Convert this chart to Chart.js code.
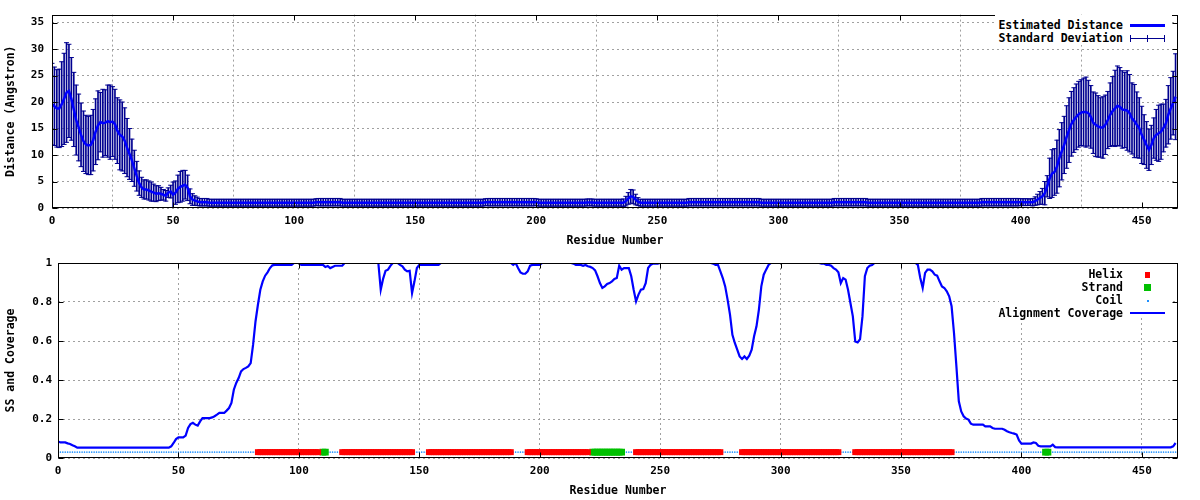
<!DOCTYPE html>
<html>
<head>
<meta charset="utf-8">
<script src="https://cdn.jsdelivr.net/npm/chart.js@4.4.1/dist/chart.umd.min.js"></script>
<style>
html,body{margin:0;padding:0;background:#fff;}
#wrap{position:relative;width:1200px;height:500px;overflow:hidden;background:#fff;}
canvas{position:absolute;left:0;}
.box{position:absolute;background:#fff;}
.lt{position:absolute;right:77px;font:bold 11.5px 'DejaVu Sans Mono',monospace;color:#000;white-space:nowrap;text-align:right;line-height:13px;height:13px;}
.sw{position:absolute;}
</style>
</head>
<body>
<div id="wrap">
  <canvas id="cTop" width="1200" height="250" style="top:0px"></canvas>
  <canvas id="cBot" width="1200" height="250" style="top:250px"></canvas>

  <!-- top legend -->
  <div class="box" style="left:995px;top:15px;width:177px;height:30px"></div>
  <div class="lt" style="top:19px">Estimated Distance</div>
  <div class="sw" style="left:1130px;top:24px;width:35px;height:3px;background:#0000ff"></div>
  <div class="lt" style="top:32px">Standard Deviation</div>
  <div class="sw" style="left:1130px;top:38px;width:35px;height:1px;background:#000090"></div>
  <div class="sw" style="left:1130px;top:35px;width:1px;height:7px;background:#000090"></div>
  <div class="sw" style="left:1147px;top:35px;width:1px;height:7px;background:#000090"></div>
  <div class="sw" style="left:1164px;top:35px;width:1px;height:7px;background:#000090"></div>

  <!-- bottom legend -->
  <div class="box" style="left:999px;top:264px;width:173px;height:53px"></div>
  <div class="lt" style="top:268px">Helix</div>
  <div class="sw" style="left:1145px;top:272px;width:5px;height:6px;background:#ff0000"></div>
  <div class="lt" style="top:281px">Strand</div>
  <div class="sw" style="left:1144px;top:284px;width:7px;height:7px;background:#00c000"></div>
  <div class="lt" style="top:294px">Coil</div>
  <div class="sw" style="left:1147px;top:300px;width:2px;height:2px;background:#1e90ff"></div>
  <div class="lt" style="top:307px">Alignment Coverage</div>
  <div class="sw" style="left:1130px;top:312px;width:35px;height:2px;background:#0000ff"></div>
</div>

<script>
// ---------------- DATA ----------------
const xMax = 465;
const xTickValues = [0, 50, 100, 150, 200, 250, 300, 350, 400, 450];
const distTickValues = [0, 5, 10, 15, 20, 25, 30, 35];
const distMax = 36.5;
const covTickValues = [0, 0.2, 0.4, 0.6, 0.8, 1];
const covTickLabels = ['0', '0.2', '0.4', '0.6', '0.8', '1'];
const ssLevel = 0.03;

// Estimated distance per residue (0..464)
const meanDistance = [
19.6,19.2,18.8,18.8,19.6,20.6,21.8,22.1,20.6,18.6,
16.6,15.2,13.8,12.6,12.0,11.8,11.9,12.8,14.4,15.6,
16.2,16.0,16.1,16.4,16.2,16.3,15.8,14.6,13.8,13.5,
12.7,11.4,10.2,9.0,7.5,6.0,4.7,3.9,3.5,3.5,
3.3,3.1,2.9,2.7,2.8,2.7,2.5,2.3,2.9,3.1,
2.5,2.9,3.6,4.0,4.2,4.4,3.8,2.2,1.6,1.4,
1.25,1.1,1.1,1.1,1.1,1.0,1.0,1.0,1.0,1.0,
1.0,1.0,1.0,1.0,1.0,1.0,1.0,1.0,1.0,1.0,
1.0,1.0,1.0,1.0,1.0,1.0,1.0,1.0,1.0,1.0,
1.0,1.0,1.0,1.0,1.0,1.0,1.0,1.0,1.0,1.0,
1.0,1.0,1.0,1.0,1.0,1.0,1.0,1.0,1.0,1.1,
1.1,1.1,1.1,1.1,1.1,1.1,1.1,1.1,1.1,1.1,
1.0,1.0,1.0,1.0,1.0,1.0,1.0,1.0,1.0,1.0,
1.0,1.0,1.0,1.0,1.0,1.0,1.0,1.0,1.0,1.0,
1.0,1.0,1.0,1.0,1.0,1.0,1.0,1.0,1.0,1.0,
1.0,1.0,1.0,1.0,1.0,1.0,1.0,1.0,1.0,1.0,
1.0,1.0,1.0,1.0,1.0,1.0,1.0,1.0,1.0,1.0,
1.0,1.0,1.0,1.0,1.0,1.0,1.0,1.0,1.0,1.1,
1.1,1.1,1.1,1.1,1.1,1.1,1.1,1.1,1.1,1.1,
1.1,1.1,1.1,1.1,1.1,1.1,1.1,1.1,1.1,1.1,
1.1,1.0,1.0,1.0,1.0,1.0,1.0,1.0,1.0,1.0,
1.0,1.0,1.0,1.0,1.0,1.0,1.0,1.0,1.0,1.0,
1.0,1.05,1.05,1.05,1.0,1.0,1.0,1.0,1.0,1.0,
1.0,1.0,1.0,1.0,1.0,1.0,1.0,1.3,1.8,2.2,
2.1,1.6,1.2,1.0,1.0,1.0,1.0,1.0,1.0,1.0,
1.0,1.0,1.0,1.0,1.0,1.0,1.0,1.0,1.0,1.0,
1.0,1.0,1.0,1.1,1.1,1.1,1.1,1.1,1.1,1.1,
1.1,1.1,1.1,1.1,1.1,1.1,1.1,1.1,1.1,1.1,
1.1,1.1,1.1,1.1,1.1,1.1,1.1,1.1,1.1,1.1,
1.1,1.1,1.1,1.0,1.0,1.0,1.0,1.0,1.0,1.0,
1.0,1.0,1.0,1.0,1.0,1.0,1.0,1.0,1.0,1.0,
1.0,1.0,1.0,1.0,1.0,1.0,1.0,1.0,1.0,1.0,
1.0,1.0,1.0,1.1,1.1,1.1,1.1,1.1,1.1,1.1,
1.1,1.1,1.1,1.1,1.1,1.1,1.1,1.0,1.0,1.0,
1.0,1.0,1.0,1.0,1.0,1.0,1.0,1.0,1.0,1.0,
1.0,1.0,1.0,1.0,1.0,1.0,1.0,1.0,1.0,1.0,
1.0,1.0,1.0,1.0,1.0,1.0,1.0,1.0,1.0,1.0,
1.0,1.0,1.0,1.0,1.0,1.0,1.0,1.0,1.0,1.0,
1.0,1.0,1.0,1.0,1.1,1.1,1.1,1.1,1.1,1.1,
1.1,1.1,1.1,1.1,1.1,1.1,1.1,1.1,1.1,1.1,
1.1,1.1,1.1,1.1,1.1,1.1,1.3,1.6,1.9,2.2,
2.8,4.1,5.6,6.5,6.8,7.8,9.4,10.7,11.9,13.4,
14.7,15.9,16.6,17.2,17.7,18.0,18.1,18.1,17.9,17.2,
16.1,15.7,15.4,15.2,15.2,15.7,16.6,17.6,18.3,18.8,
19.3,19.1,18.6,18.5,18.4,17.9,16.9,16.4,15.7,15.1,
13.8,12.9,11.9,11.0,11.9,13.2,13.8,14.1,14.4,15.1,
16.0,17.6,18.8,19.8,21.0
];

// Standard deviation per residue (0..464)
const stdDev = [
7.7,7.4,7.3,7.4,8.0,8.6,9.4,8.8,7.8,7.0,
6.6,6.3,6.0,5.7,5.5,5.5,5.6,5.8,6.2,6.5,
5.6,6.4,6.2,6.8,7.0,6.6,6.6,6.2,6.6,6.5,
6.2,5.5,4.8,4.0,3.4,2.8,2.3,1.9,1.8,1.8,
1.8,1.8,1.6,1.5,1.4,1.2,1.0,1.0,0.9,1.2,
2.4,2.2,2.6,2.9,2.9,2.7,2.4,1.4,1.1,0.9,
0.8,0.7,0.7,0.7,0.7,0.65,0.65,0.65,0.65,0.65,
0.65,0.65,0.65,0.65,0.65,0.65,0.65,0.65,0.65,0.65,
0.65,0.65,0.65,0.65,0.65,0.65,0.65,0.65,0.65,0.65,
0.65,0.65,0.65,0.65,0.65,0.65,0.65,0.65,0.65,0.65,
0.65,0.65,0.65,0.65,0.65,0.65,0.65,0.65,0.65,0.65,
0.7,0.7,0.7,0.7,0.7,0.7,0.7,0.7,0.7,0.7,
0.65,0.65,0.65,0.65,0.65,0.65,0.65,0.65,0.65,0.65,
0.65,0.65,0.65,0.65,0.65,0.65,0.65,0.65,0.65,0.65,
0.65,0.65,0.65,0.65,0.65,0.65,0.65,0.65,0.65,0.65,
0.65,0.65,0.65,0.65,0.65,0.65,0.65,0.65,0.65,0.65,
0.65,0.65,0.65,0.65,0.65,0.65,0.65,0.65,0.65,0.65,
0.65,0.65,0.65,0.65,0.65,0.65,0.65,0.65,0.65,0.65,
0.7,0.7,0.7,0.7,0.7,0.7,0.7,0.7,0.7,0.7,
0.7,0.7,0.7,0.7,0.7,0.7,0.7,0.7,0.7,0.7,
0.65,0.65,0.65,0.65,0.65,0.65,0.65,0.65,0.65,0.65,
0.65,0.65,0.65,0.65,0.65,0.65,0.65,0.65,0.65,0.65,
0.65,0.65,0.65,0.65,0.65,0.65,0.65,0.65,0.65,0.65,
0.65,0.65,0.65,0.65,0.65,0.65,0.7,0.9,1.1,1.3,
1.3,1.0,0.75,0.65,0.65,0.65,0.65,0.65,0.65,0.65,
0.65,0.65,0.65,0.65,0.65,0.65,0.65,0.65,0.65,0.65,
0.65,0.65,0.65,0.7,0.7,0.7,0.7,0.7,0.7,0.7,
0.7,0.7,0.7,0.7,0.7,0.7,0.7,0.7,0.7,0.7,
0.7,0.7,0.7,0.7,0.7,0.7,0.7,0.7,0.7,0.7,
0.7,0.7,0.7,0.65,0.65,0.65,0.65,0.65,0.65,0.65,
0.65,0.65,0.65,0.65,0.65,0.65,0.65,0.65,0.65,0.65,
0.65,0.65,0.65,0.65,0.65,0.65,0.65,0.65,0.65,0.65,
0.65,0.65,0.65,0.7,0.7,0.7,0.7,0.7,0.7,0.7,
0.7,0.7,0.7,0.7,0.7,0.7,0.7,0.65,0.65,0.65,
0.65,0.65,0.65,0.65,0.65,0.65,0.65,0.65,0.65,0.65,
0.65,0.65,0.65,0.65,0.65,0.65,0.65,0.65,0.65,0.65,
0.65,0.65,0.65,0.65,0.65,0.65,0.65,0.65,0.65,0.65,
0.65,0.65,0.65,0.65,0.65,0.65,0.65,0.65,0.65,0.65,
0.65,0.65,0.65,0.65,0.7,0.7,0.7,0.7,0.7,0.7,
0.7,0.7,0.7,0.7,0.7,0.7,0.7,0.7,0.7,0.7,
0.65,0.65,0.65,0.65,0.6,0.7,0.8,1.0,1.2,1.5,
2.2,2.0,3.8,4.5,4.4,5.0,5.4,5.4,5.4,5.9,
6.1,6.1,6.1,6.2,6.2,6.2,6.4,6.6,6.2,5.9,
5.8,6.0,5.8,5.6,5.8,5.6,5.4,6.0,6.5,7.2,
7.5,7.4,7.3,7.1,7.5,7.3,6.7,6.9,6.2,5.7,
5.4,4.7,4.4,3.9,3.7,3.8,4.8,5.3,5.2,4.5,
4.5,5.5,5.8,6.0,8.1
];

// Alignment coverage per residue (0..464)
const coverage = [
0.085,0.08,0.08,0.08,0.075,0.072,0.065,0.06,0.053,0.053,
0.053,0.053,0.053,0.053,0.053,0.053,0.053,0.053,0.053,0.053,
0.053,0.053,0.053,0.053,0.053,0.053,0.053,0.053,0.053,0.053,
0.053,0.053,0.053,0.053,0.053,0.053,0.053,0.053,0.053,0.053,
0.053,0.053,0.053,0.053,0.053,0.053,0.053,0.06,0.077,0.097,
0.106,0.106,0.106,0.115,0.154,0.174,0.18,0.171,0.166,0.188,
0.205,0.205,0.205,0.205,0.208,0.214,0.222,0.231,0.231,0.231,
0.243,0.256,0.282,0.35,0.385,0.41,0.444,0.456,0.462,0.47,
0.487,0.581,0.70,0.786,0.863,0.906,0.935,0.952,0.974,0.988,
0.99,0.99,0.99,0.99,0.99,0.99,0.99,0.99,1,1,
1,0.99,0.99,0.99,0.99,0.99,0.99,0.99,0.99,0.99,
0.99,0.98,0.985,0.974,0.98,0.986,0.986,0.986,0.986,1,
1,1,1,1,1,1,1,1,1,1,
1,1,1,1,0.863,0.92,0.96,0.966,0.985,1,
1,1,0.99,0.983,0.966,0.957,0.96,0.846,0.906,0.974,
0.99,0.99,0.99,0.99,0.99,0.99,0.99,0.99,0.99,1,
1,1,1,1,1,1,1,1,1,1,
1,1,1,1,1,1,1,1,1,1,
1,1,1,1,1,1,1,1,1,0.99,
1,0.974,0.952,0.945,0.945,0.957,0.986,0.99,0.99,0.99,
0.99,1,1,1,1,1,1,1,1,1,
1,1,1,1,0.997,0.99,0.99,0.99,0.986,0.99,
0.983,0.98,0.974,0.962,0.932,0.897,0.872,0.88,0.892,0.897,
0.906,0.918,0.923,0.986,0.966,0.974,0.974,0.974,0.932,0.863,
0.803,0.838,0.863,0.866,0.897,0.974,0.99,0.997,0.997,0.997,
1,1,1,1,1,1,1,1,1,1,
1,1,1,1,1,1,1,1,1,1,
1,1,0.997,0.99,0.99,0.957,0.923,0.88,0.812,0.735,
0.632,0.59,0.556,0.521,0.508,0.521,0.508,0.525,0.556,0.624,
0.675,0.761,0.88,0.94,0.966,0.99,1,1,1,1,
1,1,1,1,1,1,1,1,1,1,
1,1,1,1,1,1,1,0.997,0.997,0.99,
0.99,0.986,0.974,0.966,0.952,0.897,0.923,0.915,0.863,0.795,
0.726,0.598,0.593,0.61,0.726,0.932,0.974,0.986,0.99,1,
1,1,1,1,1,1,1,1,1,1,
1,1,1,1,1,1,1,0.99,0.923,0.872,
0.949,0.966,0.966,0.957,0.94,0.935,0.906,0.88,0.872,0.855,
0.829,0.778,0.641,0.47,0.291,0.239,0.214,0.202,0.197,0.176,
0.171,0.171,0.171,0.171,0.171,0.162,0.162,0.162,0.154,0.15,
0.15,0.15,0.15,0.145,0.137,0.132,0.128,0.125,0.12,0.09,
0.074,0.074,0.074,0.074,0.074,0.08,0.077,0.063,0.06,0.06,
0.06,0.06,0.06,0.068,0.056,0.055,0.055,0.055,0.055,0.055,
0.055,0.055,0.055,0.055,0.055,0.055,0.055,0.055,0.055,0.055,
0.055,0.055,0.055,0.055,0.055,0.055,0.055,0.055,0.055,0.055,
0.055,0.055,0.055,0.055,0.055,0.055,0.055,0.055,0.055,0.055,
0.055,0.055,0.055,0.055,0.055,0.055,0.055,0.055,0.055,0.055,
0.055,0.055,0.055,0.06,0.077
];

// Secondary structure segments [first residue, last residue]
const helixRanges  = [[83,108],[118,147],[154,188],[195,220],[240,275],[284,324],[331,371]];
const strandRanges = [[110,111],[222,234],[410,411]];

// ---------------- BUILD ----------------
const residues = meanDistance.map((_, i) => i);
const inRanges = (r, ranges) => ranges.some(([a, b]) => r >= a && r <= b);
const helixRes  = residues.filter(r => inRanges(r, helixRanges));
const strandRes = residues.filter(r => inRanges(r, strandRanges));
const coilRes   = residues.filter(r => !inRanges(r, helixRanges) && !inRanges(r, strandRanges));

const FONT = "'DejaVu Sans Mono', monospace";
const tickFont = {family: FONT, size: 11, weight: 'bold'};
const titleFont = {family: FONT, size: 11.5, weight: 'bold'};
const GRID = '#a0a0a0';
const NAVY = '#000090';
const BLUE = '#0000ff';

const framePlugin = {
  id: 'frame',
  afterDatasetsDraw(chart) {
    const {ctx, chartArea: a, scales} = chart;
    const L = Math.round(a.left) + 0.5, R = Math.round(a.right) - 0.5;
    const T = Math.round(a.top) + 0.5, B = Math.round(a.bottom) - 0.5;
    ctx.save();
    ctx.strokeStyle = '#000';
    ctx.lineWidth = 1;
    ctx.setLineDash([]);
    ctx.strokeRect(L, T, R - L, B - T);
    ctx.beginPath();
    scales.x.ticks.forEach(t => {
      const p = Math.round(scales.x.getPixelForValue(t.value)) + 0.5;
      ctx.moveTo(p, B); ctx.lineTo(p, B - 5);
      ctx.moveTo(p, T); ctx.lineTo(p, T + 5);
    });
    scales.y.ticks.forEach(t => {
      const p = Math.round(scales.y.getPixelForValue(t.value)) + 0.5;
      ctx.moveTo(L, p); ctx.lineTo(L + 5, p);
      ctx.moveTo(R, p); ctx.lineTo(R - 5, p);
    });
    ctx.stroke();
    ctx.restore();
  }
};

function xAxis() {
  return {
    type: 'linear', position: 'bottom', min: 0, max: xMax, offset: false,
    afterBuildTicks: s => { s.ticks = xTickValues.map(v => ({value: v})); },
    afterFit: s => { s.height = 42; },
    ticks: {font: tickFont, color: '#000', padding: 7, maxRotation: 0, autoSkip: false},
    grid: {color: GRID, lineWidth: 1, drawTicks: false},
    border: {display: false, dash: [2, 3]},
    title: {display: true, text: 'Residue Number', font: titleFont, color: '#000', padding: {top: 0, bottom: 2}}
  };
}

function yAxis(min, max, tickVals, tickLabels, width, pad, title) {
  return {
    type: 'linear', position: 'left', min: min, max: max,
    afterBuildTicks: s => { s.ticks = tickVals.map(v => ({value: v})); },
    afterFit: s => { s.width = width; },
    ticks: {font: tickFont, color: '#000', padding: pad,
            callback: (v, i) => tickLabels[i]},
    grid: {color: GRID, lineWidth: 1, drawTicks: false},
    border: {display: false, dash: [2, 3]},
    title: {display: true, text: title, font: titleFont, color: '#000', padding: {top: 4, bottom: 0}}
  };
}

const common = {
  responsive: false,
  animation: false,
  devicePixelRatio: 1,
  events: [],
  plugins: {legend: {display: false}, tooltip: {enabled: false}}
};

// ---- Top chart: distance with error bars ----
new Chart(document.getElementById('cTop'), {
  type: 'line',
  data: {
    datasets: [
      {
        type: 'line', label: 'Estimated Distance',
        data: residues.map(i => ({x: i, y: meanDistance[i]})),
        borderColor: BLUE, borderWidth: 2.5, pointRadius: 0, tension: 0
      },
      {
        type: 'line', label: 'sd hi', showLine: false,
        data: residues.map(i => ({x: i, y: meanDistance[i] + stdDev[i]})),
        pointStyle: 'line', pointRadius: 2.5, pointBorderColor: NAVY, pointBorderWidth: 1
      },
      {
        type: 'line', label: 'sd lo', showLine: false,
        data: residues.map(i => ({x: i, y: meanDistance[i] - stdDev[i]})),
        pointStyle: 'line', pointRadius: 2.5, pointBorderColor: NAVY, pointBorderWidth: 1
      },
      {
        type: 'bar', label: 'Standard Deviation',
        data: residues.map(i => ({x: i, y: [meanDistance[i] - stdDev[i], meanDistance[i] + stdDev[i]]})),
        backgroundColor: NAVY, borderWidth: 0, barThickness: 1
      }
    ]
  },
  options: Object.assign({}, common, {
    layout: {padding: {top: 14, right: 22, left: 0, bottom: 0}, autoPadding: false},
    scales: {
      x: xAxis(),
      y: yAxis(0, distMax, distTickValues, distTickValues.map(String), 52, 8, 'Distance (Angstron)')
    }
  }),
  plugins: [framePlugin]
});

// ---- Bottom chart: SS and coverage ----
new Chart(document.getElementById('cBot'), {
  type: 'line',
  data: {
    datasets: [
      {
        type: 'line', label: 'Alignment Coverage',
        data: residues.map(i => ({x: i, y: coverage[i]})),
        borderColor: BLUE, borderWidth: 2.2, pointRadius: 0, tension: 0
      },
      {
        type: 'line', label: 'Helix', showLine: false,
        data: helixRes.map(r => ({x: r, y: ssLevel})),
        pointStyle: 'rect', pointRadius: 4.2, pointBackgroundColor: '#ff0000', pointBorderWidth: 0
      },
      {
        type: 'line', label: 'Strand', showLine: false,
        data: strandRes.map(r => ({x: r, y: ssLevel})),
        pointStyle: 'rect', pointRadius: 4.8, pointBackgroundColor: '#00c000', pointBorderWidth: 0
      },
      {
        type: 'line', label: 'Coil', showLine: false,
        data: coilRes.map(r => ({x: r, y: ssLevel})),
        pointStyle: 'circle', pointRadius: 0.8, pointBackgroundColor: '#1e90ff', pointBorderWidth: 0
      }
    ]
  },
  options: Object.assign({}, common, {
    layout: {padding: {top: 13, right: 22, left: 0, bottom: 0}, autoPadding: false},
    scales: {
      x: xAxis(),
      y: yAxis(0, 1, covTickValues, covTickLabels, 58, 6, 'SS and Coverage')
    }
  }),
  plugins: [framePlugin]
});
</script>
</body>
</html>
